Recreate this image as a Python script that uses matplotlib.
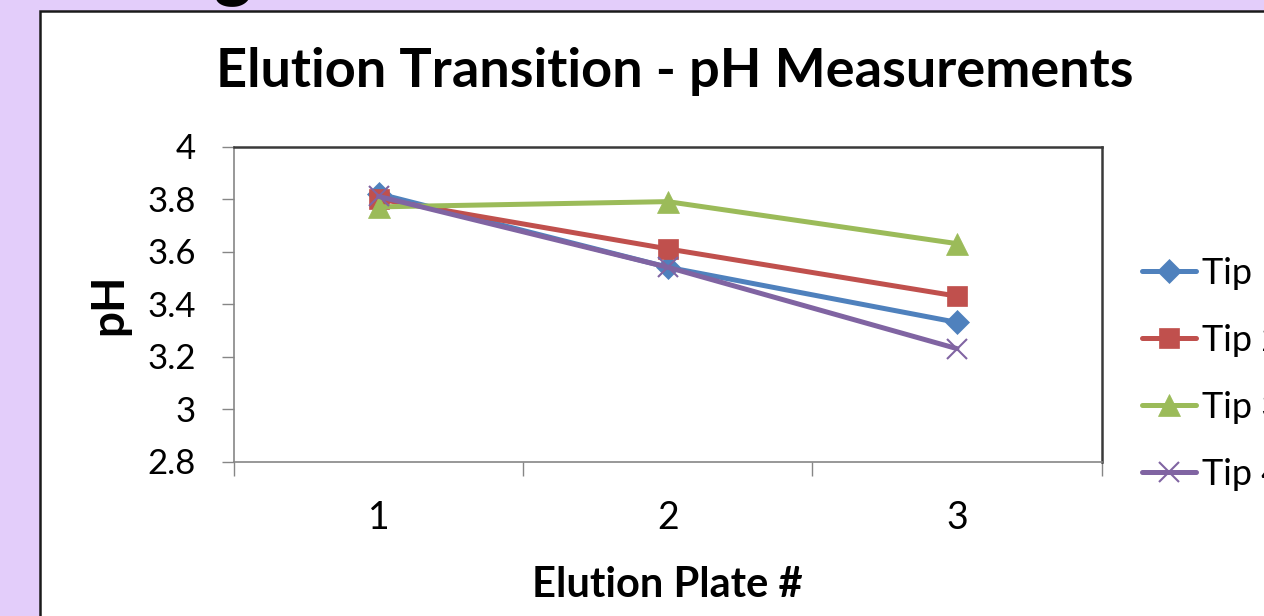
import numpy as np
import matplotlib.pyplot as plt
from matplotlib.patches import Rectangle

plt.rcParams['font.family'] = ['Lato', 'DejaVu Sans']

# pH readings per elution plate for each tip
plates = [1, 2, 3]
tip1 = [3.82, 3.54, 3.33]
tip2 = [3.80, 3.61, 3.43]
tip3 = [3.77, 3.79, 3.63]
tip4 = [3.81, 3.54, 3.23]
labels = ['Tip 1', 'Tip 2', 'Tip 3', 'Tip 4']
yticks = [2.8, 3.0, 3.2, 3.4, 3.6, 3.8, 4.0]

W, H = 1264, 616
fig = plt.figure(figsize=(W / 100, H / 100), dpi=100)
fig.patch.set_facecolor('#E3CDFA')

# white chart box running off the right and bottom edges
fig.patches.append(Rectangle((40 / W, -0.1), 1.2, (H - 11) / H + 0.1,
                             transform=fig.transFigure, facecolor='white',
                             edgecolor='#1a1a1a', linewidth=1.8, zorder=-5))

# bit of the slide heading sticking in at the top
fig.text(232 / W, (H + 8) / H, 'g', fontsize=52, fontweight='bold',
         ha='center', va='baseline', color='black', zorder=-6)

ax = fig.add_axes([234 / W, (H - 461.5) / H, 867.5 / W, 315 / H])
ax.set_facecolor('white')

series = [tip1, tip2, tip3, tip4]
colors = ['#4F81BD', '#C0504D', '#9BBB59', '#8064A2']
markers = ['D', 's', '^', 'x']
msizes = [12, 15, 16, 14]
for vals, lab, c, m, ms in zip(series, labels, colors, markers, msizes):
    ax.plot(plates, vals, color=c, marker=m, markersize=ms, linewidth=3.6,
            markeredgewidth=1.5 if m == 'x' else 0.5, markeredgecolor=c,
            label=lab, solid_capstyle='round')

ax.set_xlim(0.5, 3.5)
ax.set_ylim(2.8, 4.0)
ax.set_yticks(yticks)
ax.set_yticklabels(['2.8', '3', '3.2', '3.4', '3.6', '3.8', '4'])
ax.set_xticks(plates)
ax.set_xticks([0.5, 1.5, 2.5, 3.5], minor=True)
ax.tick_params(axis='x', which='major', length=0, pad=28, labelsize=27)
ax.tick_params(axis='x', which='minor', length=10, width=1, color='#868686', direction='out')
ax.tick_params(axis='y', length=8.6, width=1, color='#868686', direction='out',
               labelsize=25, pad=19)

for side in ['left', 'bottom']:
    ax.spines[side].set_color('#868686')
    ax.spines[side].set_linewidth(1.2)
for side in ['top', 'right']:
    ax.spines[side].set_color('#3a3a3a')
    ax.spines[side].set_linewidth(1.8)

ax.set_xlabel('Elution Plate #', fontsize=30, fontweight='bold', labelpad=21)
ax.set_ylabel('pH', fontsize=33, fontweight='bold', labelpad=12)

fig.text(675 / W, (H - 87) / H, 'Elution Transition - pH Measurements',
         fontsize=39, fontweight='bold', ha='center', va='baseline')

ax.legend(loc='upper left', bbox_to_anchor=(1142 / W, (H - 257) / H),
          bbox_transform=fig.transFigure, frameon=False, fontsize=26,
          handlelength=1.5, handletextpad=0.17, labelspacing=0.94,
          borderaxespad=0, borderpad=0)

fig.savefig('out.png', dpi=100, facecolor=fig.get_facecolor())
